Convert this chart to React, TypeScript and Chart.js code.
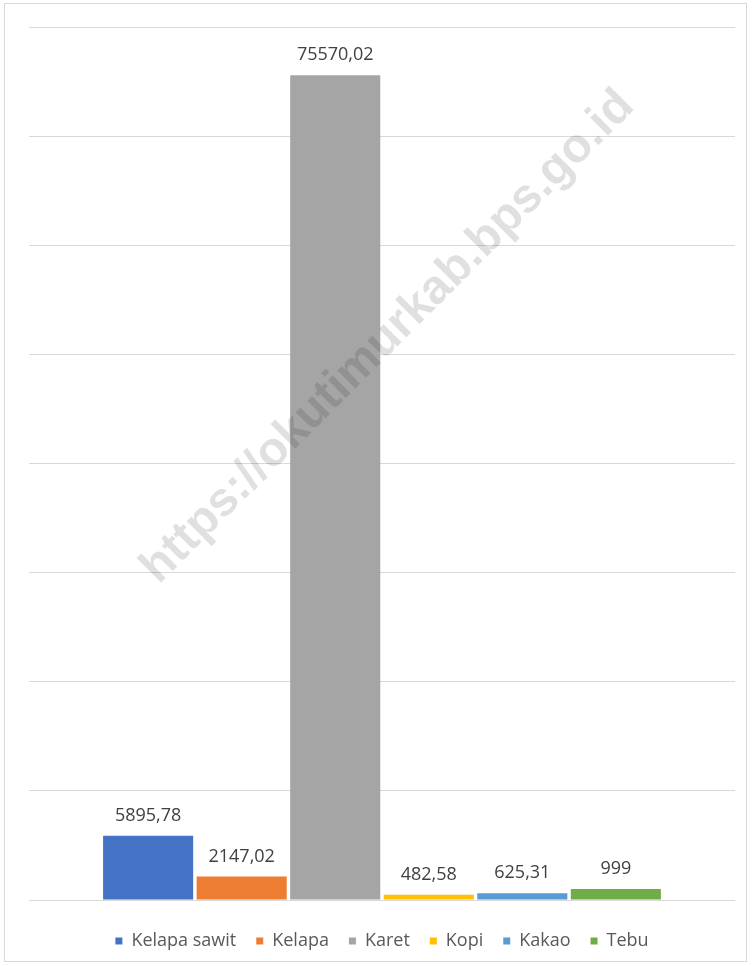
import React, { useEffect, useRef } from "react";
import { Chart, registerables } from "chart.js";

Chart.register(...registerables);

const categories = ["Komoditas"];
const seriesNames = ["Kelapa sawit", "Kelapa", "Karet", "Kopi", "Kakao", "Tebu"];
const seriesValues = [5895.78, 2147.02, 75570.02, 482.58, 625.31, 999];
const seriesColors = ["#4472C4", "#ED7D31", "#A5A5A5", "#FFC000", "#5B9BD5", "#70AD47"];
const watermark = "https://okutimurkab.bps.go.id";

const FONT = "'Open Sans', sans-serif";
const CANVAS_H = 980;

const fmt = (v: number) => String(v).replace(".", ",");

const labelPlugin = {
  id: "valueLabels",
  afterDatasetsDraw(chart: any) {
    const ctx = chart.ctx;
    ctx.save();
    ctx.font = `18px ${FONT}`;
    ctx.fillStyle = "#404040";
    ctx.textAlign = "center";
    ctx.textBaseline = "bottom";
    chart.data.datasets.forEach((ds: any, i: number) => {
      const meta = chart.getDatasetMeta(i);
      meta.data.forEach((bar: any, j: number) => {
        ctx.fillText(fmt(ds.data[j]), bar.x, bar.y - 11);
      });
    });
    ctx.restore();
  },
};

const watermarkPlugin = {
  id: "watermark",
  afterDraw(chart: any) {
    const ctx = chart.ctx;
    ctx.save();
    ctx.translate(388, 337);
    ctx.rotate(-Math.PI / 4);
    ctx.font = `bold 48px 'Liberation Sans', Arial, sans-serif`;
    ctx.fillStyle = "rgba(0,0,0,0.12)";
    ctx.textAlign = "center";
    ctx.textBaseline = "middle";
    ctx.fillText(watermark, 0, 0);
    ctx.restore();
  },
};

export default function App() {
  const ref = useRef<HTMLCanvasElement>(null);
  useEffect(() => {
    if (!ref.current) return;
    const chart = new Chart(ref.current, {
      type: "bar",
      data: {
        labels: categories,
        datasets: seriesNames.map((name, i) => ({
          label: name,
          data: [seriesValues[i]],
          backgroundColor: seriesColors[i],
          borderWidth: 0,
          categoryPercentage: 0.795,
          barPercentage: 0.963,
        })),
      },
      options: {
        animation: false,
        responsive: false,
        maintainAspectRatio: false,
        layout: { padding: { left: 29, right: 17, top: 27, bottom: 20 } },
        plugins: {
          tooltip: { enabled: false },
          title: { display: false },
          legend: {
            position: "bottom",
            title: { display: true, text: "", padding: 0, font: { size: 12, lineHeight: 1 } },
            labels: {
              usePointStyle: true,
              pointStyle: "rect",
              boxWidth: 7,
              boxHeight: 7,
              padding: 20,
              color: "#595959",
              font: { family: FONT, size: 18 },
            },
          },
        },
        scales: {
          x: { display: false },
          y: {
            min: 0,
            max: 80000,
            ticks: { display: false, stepSize: 10000 },
            border: { display: false },
            grid: { color: "#d9d9d9", lineWidth: 1, drawTicks: false },
          },
        },
      },
      plugins: [labelPlugin, watermarkPlugin],
    });
    return () => chart.destroy();
  }, []);
  return (
    <div
      style={{
        position: "fixed",
        left: 0,
        top: 0,
        width: 752,
        height: 966,
        overflow: "hidden",
        background: "#fff",
      }}
    >
      <div
        style={{
          position: "absolute",
          left: 4,
          top: 3,
          width: 743,
          height: 959,
          border: "1px solid #d9d9d9",
          boxSizing: "border-box",
        }}
      />
      <canvas ref={ref} width={752} height={CANVAS_H} style={{ position: "absolute", left: 0, top: 0 }} />
    </div>
  );
}
